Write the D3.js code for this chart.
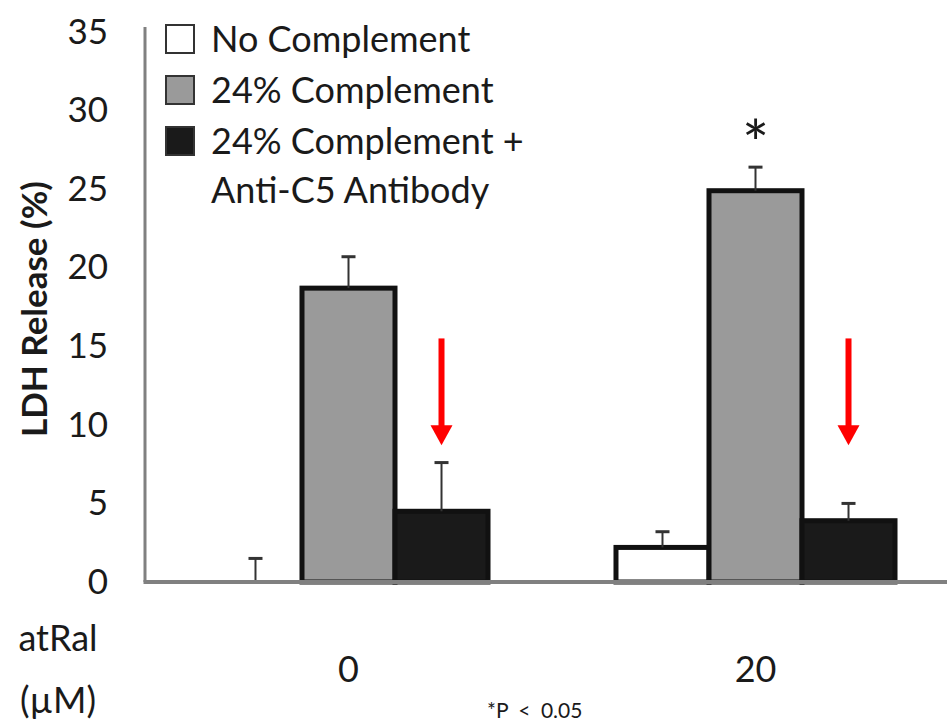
<!DOCTYPE html>
<html>
<head>
<meta charset="utf-8">
<script src="https://cdn.jsdelivr.net/npm/d3@7"></script>
<style>
  body { margin: 0; background: #fff; }
  text { font-family: Lato, "Open Sans", sans-serif; fill: #1a1a1a; }
</style>
</head>
<body>
<script>
// data
const groups = ["0", "20"];
const seriesNames = ["No Complement", "24% Complement", "24% Complement + Anti-C5 Antibody"];
const noComplement = [0, 2.2];
const complement24 = [18.7, 24.9];
const complementAntiC5 = [4.5, 3.9];
const errNoComplement = [1.5, 1.0];
const errComplement24 = [2.0, 1.5];
const errAntiC5 = [3.1, 1.1];
const yTicks = [0, 5, 10, 15, 20, 25, 30, 35];
const arrowFrom = [15.5, 15.5];
const arrowTo = [8.7, 8.7];
const starValue = 28.6;   // "*" over 24% complement at 20 µM

const w = 947;
const h = 725;
const axisX = 145;
const baseY = 582;

const means = [noComplement, complement24, complementAntiC5];
const errs = [errNoComplement, errComplement24, errAntiC5];
const fills = ["#ffffff", "#9a9a9a", "#1a1a1a"];

const rows = [];
groups.forEach((g, gi) => {
  seriesNames.forEach((s, si) => {
    rows.push({group: g, series: s, si: si, value: means[si][gi], err: errs[si][gi]});
  });
});

const yScale = d3.scaleLinear().domain([0, 35]).range([baseY, 32]);
const x0 = d3.scaleBand().domain(groups).range([axisX, axisX + 2 * 407]);
const x1 = d3.scaleBand().domain(seriesNames).range([0, x0.bandwidth()]).paddingOuter(0.688);

const svg = d3.select("body").append("svg")
  .attr("width", w)
  .attr("height", h);

svg.append("rect").attr("width", w).attr("height", h).attr("fill", "#fff");

// bars
svg.selectAll("rect.bar")
   .data(rows)
   .enter()
   .append("rect")
   .attr("class", "bar")
   .attr("x", d => x0(d.group) + x1(d.series))
   .attr("y", d => yScale(d.value))
   .attr("width", x1.bandwidth())
   .attr("height", d => baseY - yScale(d.value))
   .attr("fill", d => fills[d.si])
   .attr("stroke", d => d.value > 0 ? "#111" : "none")
   .attr("stroke-width", 5);

// error bars (upper only)
const eb = svg.selectAll("g.err")
   .data(rows)
   .enter()
   .append("g")
   .attr("class", "err")
   .attr("transform", d => "translate(" + (x0(d.group) + x1(d.series) + x1.bandwidth() / 2) + ",0)");

eb.append("line")
  .attr("y1", d => yScale(d.value))
  .attr("y2", d => yScale(d.value + d.err))
  .attr("stroke", "#333")
  .attr("stroke-width", 2);

eb.append("line")
  .attr("x1", -7).attr("x2", 7)
  .attr("y1", d => yScale(d.value + d.err))
  .attr("y2", d => yScale(d.value + d.err))
  .attr("stroke", "#333")
  .attr("stroke-width", 3);

// axes
const yAxis = d3.axisLeft(yScale).tickValues(yTicks).tickSize(0).tickPadding(37);
const gy = svg.append("g")
   .attr("id", "y-axis")
   .attr("transform", "translate(" + axisX + ",0)")
   .call(yAxis);
gy.select(".domain").attr("stroke", "#808080").attr("stroke-width", 3).attr("d", "M0," + 27 + "V" + baseY);
gy.selectAll(".tick text").attr("font-size", 35).attr("font-family", "Lato").attr("fill", "#1a1a1a");

const xAxis = d3.axisBottom(x0).tickSize(0).tickPadding(74);
const gx = svg.append("g")
   .attr("id", "x-axis")
   .attr("transform", "translate(0," + baseY + ")")
   .call(xAxis);
gx.select(".domain").attr("stroke", "#808080").attr("stroke-width", 4).attr("d", "M" + (axisX - 1.5) + ",0H" + w);
gx.selectAll(".tick text").attr("font-size", 36).attr("font-family", "Lato").attr("fill", "#1a1a1a");

// red arrows over the anti-C5 bars
const headH = 20, headW = 22;
groups.forEach((g, gi) => {
  const cx = x0(g) + x1(seriesNames[2]) + x1.bandwidth() / 2;
  const yTop = yScale(arrowFrom[gi]);
  const yTip = yScale(arrowTo[gi]);
  svg.append("line")
     .attr("x1", cx).attr("x2", cx)
     .attr("y1", yTop).attr("y2", yTip - headH + 2)
     .attr("stroke", "#ff0000")
     .attr("stroke-width", 6);
  svg.append("path")
     .attr("d", "M" + (cx - headW / 2) + "," + (yTip - headH) + "L" + (cx + headW / 2) + "," + (yTip - headH) + "L" + cx + "," + yTip + "Z")
     .attr("fill", "#ff0000");
});

// significance star
svg.append("text")
   .attr("x", x0("20") + x1(seriesNames[1]) + x1.bandwidth() / 2)
   .attr("y", yScale(starValue) + 34)
   .attr("text-anchor", "middle")
   .attr("font-size", 64)
   .text("*");

// y label
svg.append("text")
   .attr("transform", "translate(47,309) rotate(-90)")
   .attr("text-anchor", "middle")
   .attr("font-size", 35)
   .attr("font-weight", "bold")
   .text("LDH Release (%)");

// legend
const legendRows = [
  {label: "No Complement", y: 25, box: true},
  {label: "24% Complement", y: 76, box: true},
  {label: "24% Complement +", y: 127, box: true},
  {label: "Anti-C5 Antibody", y: 176, box: false}
];
let bi = 0;
legendRows.forEach(r => {
  if (r.box) {
    svg.append("rect")
       .attr("x", 166).attr("y", r.y)
       .attr("width", 28).attr("height", 28)
       .attr("fill", fills[bi])
       .attr("stroke", "#333")
       .attr("stroke-width", 2);
    bi++;
  }
  svg.append("text")
     .attr("x", 211)
     .attr("y", r.y + 27)
     .attr("font-size", 36)
     .text(r.label);
});

// x-axis title at left
svg.append("text").attr("x", 58).attr("y", 651).attr("text-anchor", "middle").attr("font-size", 36).text("atRal");
svg.append("text").attr("x", 58).attr("y", 713).attr("text-anchor", "middle").attr("font-size", 36).text("(\u00b5M)");

// footnote
svg.append("text")
   .attr("x", 487).attr("y", 718)
   .attr("font-family", "Liberation Sans, Arial, sans-serif")
   .attr("font-size", 21)
   .attr("word-spacing", 5)
   .text("*P < 0.05");
</script>
</body>
</html>
